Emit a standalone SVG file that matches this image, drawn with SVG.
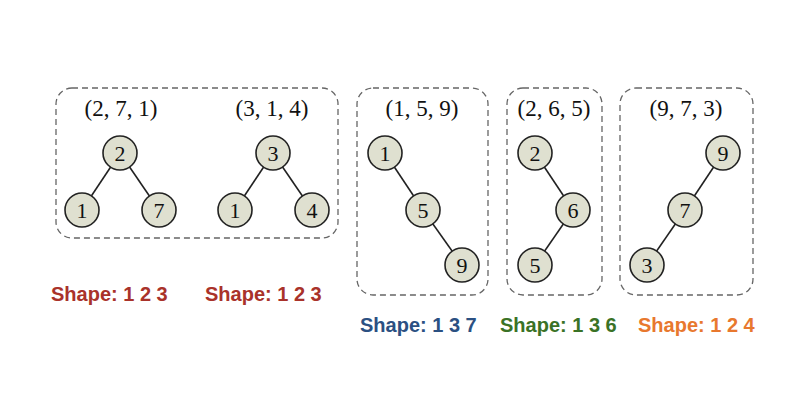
<svg xmlns="http://www.w3.org/2000/svg" width="796" height="402" viewBox="0 0 796 402">
<style>
.box{fill:none;stroke:#666;stroke-width:1.3;stroke-dasharray:6 4}
.nd{fill:#dfe0d0;stroke:#222;stroke-width:1.6}
.nt{font-family:"Liberation Serif","Times New Roman",serif;font-size:22px;fill:#111;text-anchor:middle}
.tp{font-family:"Liberation Serif","Times New Roman",serif;font-size:23px;fill:#111;text-anchor:middle}
.e{stroke:#222;stroke-width:1.6}
.sh{font-family:"Liberation Sans",Arial,sans-serif;font-size:20px;font-weight:bold}
</style>
<rect width="796" height="402" fill="#fff"/>
<g id="boxes">
<rect id="box1" class="box" x="56" y="88" width="282" height="150" rx="16"/>
<rect id="box2" class="box" x="357" y="88" width="131" height="207" rx="16"/>
<rect id="box3" class="box" x="507" y="88" width="95" height="207" rx="16"/>
<rect id="box4" class="box" x="620" y="88" width="133" height="207" rx="16"/>
</g>
<g id="tuples">
<text class="tp" x="121" y="116">(2, 7, 1)</text>
<text class="tp" x="272" y="116">(3, 1, 4)</text>
<text class="tp" x="422" y="116">(1, 5, 9)</text>
<text class="tp" x="554" y="116">(2, 6, 5)</text>
<text class="tp" x="686" y="116">(9, 7, 3)</text>
</g>
<g id="connectors">
<line class="e" x1="120" y1="153" x2="82" y2="210"/>
<line class="e" x1="120" y1="153" x2="159" y2="210"/>
<line class="e" x1="273" y1="153" x2="235" y2="210"/>
<line class="e" x1="273" y1="153" x2="312" y2="210"/>
<line class="e" x1="385" y1="153" x2="423" y2="210"/>
<line class="e" x1="423" y1="210" x2="462" y2="265"/>
<line class="e" x1="535" y1="153" x2="573" y2="210"/>
<line class="e" x1="573" y1="210" x2="535" y2="265"/>
<line class="e" x1="723" y1="153" x2="685" y2="210"/>
<line class="e" x1="685" y1="210" x2="647" y2="265"/>
</g>
<g id="n1a"><circle class="nd" cx="120" cy="153" r="17"/><text class="nt" x="120" y="160.5">2</text></g>
<g id="n1b"><circle class="nd" cx="82" cy="210" r="17"/><text class="nt" x="82" y="217.5">1</text></g>
<g id="n1c"><circle class="nd" cx="159" cy="210" r="17"/><text class="nt" x="159" y="217.5">7</text></g>
<g id="n2a"><circle class="nd" cx="273" cy="153" r="17"/><text class="nt" x="273" y="160.5">3</text></g>
<g id="n2b"><circle class="nd" cx="235" cy="210" r="17"/><text class="nt" x="235" y="217.5">1</text></g>
<g id="n2c"><circle class="nd" cx="312" cy="210" r="17"/><text class="nt" x="312" y="217.5">4</text></g>
<g id="n3a"><circle class="nd" cx="385" cy="153" r="17"/><text class="nt" x="385" y="160.5">1</text></g>
<g id="n3b"><circle class="nd" cx="423" cy="210" r="17"/><text class="nt" x="423" y="217.5">5</text></g>
<g id="n3c"><circle class="nd" cx="462" cy="265" r="17"/><text class="nt" x="462" y="272.5">9</text></g>
<g id="n4a"><circle class="nd" cx="535" cy="153" r="17"/><text class="nt" x="535" y="160.5">2</text></g>
<g id="n4b"><circle class="nd" cx="573" cy="210" r="17"/><text class="nt" x="573" y="217.5">6</text></g>
<g id="n4c"><circle class="nd" cx="535" cy="265" r="17"/><text class="nt" x="535" y="272.5">5</text></g>
<g id="n5a"><circle class="nd" cx="723" cy="153" r="17"/><text class="nt" x="723" y="160.5">9</text></g>
<g id="n5b"><circle class="nd" cx="685" cy="210" r="17"/><text class="nt" x="685" y="217.5">7</text></g>
<g id="n5c"><circle class="nd" cx="647" cy="265" r="17"/><text class="nt" x="647" y="272.5">3</text></g>
<g id="labels">
<text class="sh" x="51" y="301" fill="#a9322a">Shape: 1 2 3</text>
<text class="sh" x="205" y="301" fill="#a9322a">Shape: 1 2 3</text>
<text class="sh" x="360" y="332" fill="#2b5082">Shape: 1 3 7</text>
<text class="sh" x="500" y="332" fill="#3a7226">Shape: 1 3 6</text>
<text class="sh" x="638" y="332" fill="#e8782e">Shape: 1 2 4</text>
</g>
</svg>
